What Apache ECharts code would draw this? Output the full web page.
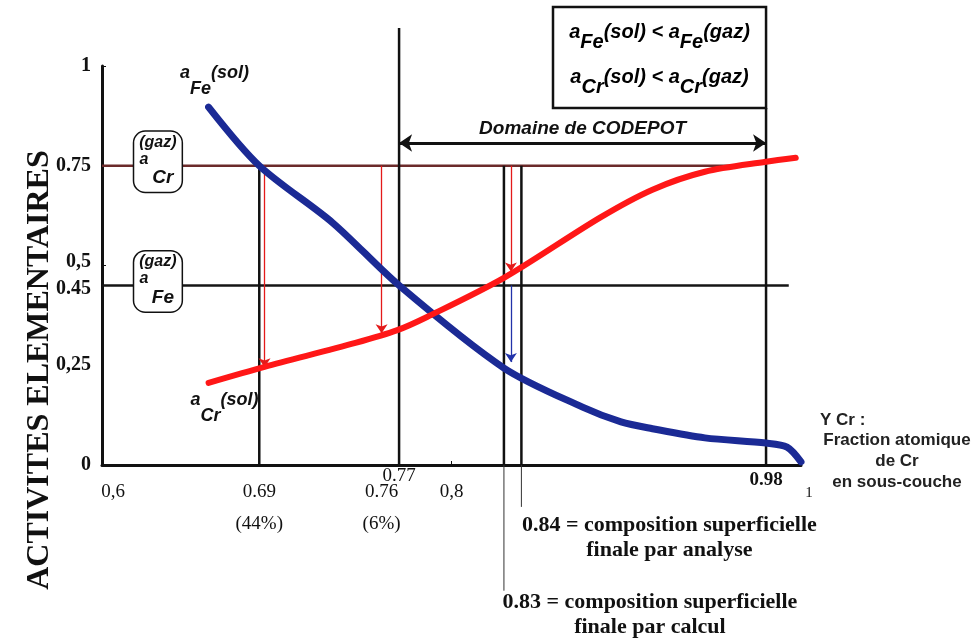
<!DOCTYPE html>
<html>
<head>
<meta charset="utf-8">
<script src="https://cdn.jsdelivr.net/npm/echarts@6/dist/echarts.min.js"></script>
<style>
html,body{margin:0;padding:0;background:#fff;}
#main{width:978px;height:641px;}
</style>
</head>
<body>
<div id="main"></div>
<script>
// courbes : x = fraction atomique de Cr, y = activite
var feSolX = [0.661, 0.69, 0.732, 0.77, 0.83, 0.875, 0.897, 0.915, 0.945, 0.98, 0.992, 1.0];
var feSolY = [0.897, 0.75, 0.607, 0.45, 0.243, 0.145, 0.108, 0.091, 0.068, 0.055, 0.045, 0.008];
var crSolX = [0.661, 0.693, 0.745, 0.769, 0.786, 0.83, 0.885, 0.915, 0.945, 0.98, 0.997];
var crSolY = [0.206, 0.246, 0.306, 0.338, 0.371, 0.469, 0.62, 0.69, 0.735, 0.76, 0.77];

// activites dans le gaz (lignes horizontales)
var gazLevel = [0.75, 0.45];
var gazLineEnd = [0.96, 0.993];
var gazName = ['Cr', 'Fe'];

// lignes verticales
var vLineX = [0.69, 0.77, 0.83, 0.84, 0.98];
var vLineTop = [0.75, 1.095, 0.75, 0.75, 0.895];
var leaderX = [0.83, 0.84];
var leaderBottom = [-0.315, -0.105];

// fleches
var redArrowX = [0.693, 0.76, 0.834];
var redArrowTo = [0.245, 0.33, 0.485];
var blueArrowX = [0.834];
var blueArrowFrom = [0.45];
var blueArrowTo = [0.258];
var codepot = [0.77, 0.98];
var codepotLevel = 0.807;

// graduations
var xTickValues = [0.6, 0.69, 0.76, 0.77, 0.8, 0.98, 1];
var xTickLabels = ['0,6', '0.69\n(44%)', '0.76\n(6%)', '0.77', '0,8', '0.98', '1'];
var yTickValues = [0, 0.25, 0.45, 0.5, 0.75, 1];
var yTickLabels = ['0', '0,25', '0.45', '0,5', '0.75', '1'];

function zip(xs, ys) {
    var out = [];
    for (var i = 0; i < xs.length; i++) out.push([xs[i], ys[i]]);
    return out;
}

var SANS = 'Liberation Sans, Arial, sans-serif';
var SERIF = 'Liberation Serif, Times New Roman, serif';

function xLabel(v) {
    var i = xTickValues.indexOf(v);
    if (i < 0) return '';
    var t = xTickLabels[i].split('\n');
    if (v === 0.77) return '{hi|' + t[0] + '}';
    if (v === 0.98) return '{b|' + t[0] + '}';
    if (v === 0.6) return '{l|' + t[0] + '}';
    if (v === 1) return '{one|' + t[0] + '}';
    if (t.length > 1) return '{n|' + t[0] + '}\n{p|' + t[1] + '}';
    return '{n|' + t[0] + '}';
}

function yLabel(v) {
    var i = yTickValues.indexOf(v);
    if (i < 0) return '';
    if (v === 0.5) return '{up|' + yTickLabels[i] + '}';
    if (v === 0.45) return '{dn|' + yTickLabels[i] + '}';
    return '{v|' + yTickLabels[i] + '}';
}

var italicB = {fontFamily: SANS, fontStyle: 'italic', fontWeight: 'bold', color: '#111'};

function subLabel(el, sup) {
    // a_el^(sup) : "a" en haut, indice en bas, parenthese en haut
    return '{a|a}{s|' + el + '}{t|' + sup + '}';
}
function subRich(size, lh) {
    return {
        a: Object.assign({fontSize: size, lineHeight: lh, verticalAlign: 'top'}, italicB),
        s: Object.assign({fontSize: size, lineHeight: lh, verticalAlign: 'bottom'}, italicB),
        t: Object.assign({fontSize: size, lineHeight: lh, verticalAlign: 'top'}, italicB)
    };
}

var series = [];

// lignes horizontales des activites gazeuses
gazLevel.forEach(function (y, i) {
    series.push({
        type: 'line', silent: true, symbol: 'none', z: 2,
        data: [[0.6, y], [gazLineEnd[i], y]],
        lineStyle: {color: i === 0 ? '#6b2a2a' : '#151515', width: 2.5},
        markPoint: {
            silent: true, symbolSize: 0,
            data: [{coord: [0.632, y]}],
            label: {
                show: true, position: 'inside', offset: [0, -4],
                formatter: '{g|(gaz)}\n{a|a}\n{e|' + gazName[i] + '}',
                backgroundColor: '#fff', borderColor: '#111', borderWidth: 1.5, borderRadius: 11,
                padding: [2, 5, 3, 5],
                rich: {
                    g: Object.assign({fontSize: 16, lineHeight: 17}, italicB),
                    a: Object.assign({fontSize: 16, lineHeight: 17, padding: [0, 28, 0, 0]}, italicB),
                    e: Object.assign({fontSize: 19, lineHeight: 21, padding: [0, 0, 0, 10]}, italicB)
                }
            }
        }
    });
});

// lignes verticales noires
vLineX.forEach(function (x, i) {
    series.push({
        type: 'line', silent: true, symbol: 'none', clip: false, z: 2,
        data: [[x, 0], [x, vLineTop[i]]],
        lineStyle: {color: '#111', width: 2.5}
    });
});
leaderX.forEach(function (x, i) {
    series.push({
        type: 'line', silent: true, symbol: 'none', clip: false, z: 2,
        data: [[x, 0], [x, leaderBottom[i]]],
        lineStyle: {color: '#333', width: 1}
    });
});

// courbes
series.push({
    name: 'aFe(sol)', type: 'line', smooth: 0.3, showSymbol: false, silent: true, z: 5,
    data: zip(feSolX, feSolY),
    lineStyle: {color: '#1b2a95', width: 7, cap: 'round'},
    markPoint: {
        silent: true, symbolSize: 0,
        data: [{coord: [feSolX[0], feSolY[0]]}],
        label: {show: true, position: 'inside', offset: [6, -26],
            formatter: subLabel('Fe', '(sol)'), rich: subRich(18, 34)}
    }
});
series.push({
    name: 'aCr(sol)', type: 'line', smooth: 0.3, showSymbol: false, silent: true, z: 5,
    data: zip(crSolX, crSolY),
    lineStyle: {color: '#ff1717', width: 6, cap: 'round'},
    markPoint: {
        silent: true, symbolSize: 0,
        data: [{coord: [crSolX[0], crSolY[0]]}],
        label: {show: true, position: 'inside', offset: [16, 25],
            formatter: subLabel('Cr', '(sol)'), rich: subRich(18, 34)}
    }
});

// fleches rouges / bleue
series.push({
    type: 'line', data: [], silent: true, z: 4,
    markLine: {
        silent: true, symbol: ['none', 'arrow'], symbolSize: 9,
        lineStyle: {color: '#e41a1a', width: 1.3, type: 'solid'},
        label: {show: false},
        data: redArrowX.map(function (x, i) { return [{coord: [x, 0.75]}, {coord: [x, redArrowTo[i]]}]; })
    }
});
series.push({
    type: 'line', data: [], silent: true, z: 4,
    markLine: {
        silent: true, symbol: ['none', 'arrow'], symbolSize: 9,
        lineStyle: {color: '#2233aa', width: 1.3, type: 'solid'},
        label: {show: false},
        data: blueArrowX.map(function (x, i) { return [{coord: [x, blueArrowFrom[i]]}, {coord: [x, blueArrowTo[i]]}]; })
    }
});
// domaine de CODEPOT
series.push({
    type: 'line', data: [], silent: true, z: 4,
    markLine: {
        silent: true, symbol: ['arrow', 'arrow'], symbolSize: 13,
        lineStyle: {color: '#111', width: 3, type: 'solid'},
        label: {show: true, position: 'insideMiddleTop', distance: 5, formatter: 'Domaine de CODEPOT',
            fontFamily: SANS, fontStyle: 'italic', fontWeight: 'bold', fontSize: 19, color: '#111'},
        data: [[{coord: [codepot[0], codepotLevel]}, {coord: [codepot[1], codepotLevel]}]]
    }
});

var chart = echarts.init(document.getElementById('main'));

var option = {
    animation: false,
    backgroundColor: '#fff',
    grid: {left: 102, right: 177, top: 66, bottom: 176, containLabel: false, outerBoundsMode: 'none'},
    xAxis: {
        type: 'value', min: 0.6, max: 1,
        axisLine: {show: true, onZero: false, lineStyle: {color: '#111', width: 3}},
        axisTick: {show: true, inside: true, length: 4, customValues: [0.8], lineStyle: {color: '#111'}},
        splitLine: {show: false},
        axisLabel: {
            customValues: xTickValues, margin: 4, showMinLabel: true, showMaxLabel: true,
            formatter: xLabel,
            rich: {
                n: {fontFamily: SERIF, fontSize: 19, lineHeight: 46, color: '#111'},
                p: {fontFamily: SERIF, fontSize: 19, lineHeight: 18, color: '#111'},
                hi: {fontFamily: SERIF, fontSize: 19, lineHeight: 14, color: '#111'},
                b: {fontFamily: SERIF, fontSize: 19, fontWeight: 'bold', lineHeight: 22, color: '#111'},
                l: {fontFamily: SERIF, fontSize: 19, lineHeight: 46, color: '#111', padding: [0, 0, 0, 22]},
                one: {fontFamily: SERIF, fontSize: 15, lineHeight: 48, color: '#111', padding: [0, 0, 0, 16]}
            }
        }
    },
    yAxis: {
        type: 'value', min: 0, max: 1,
        axisLine: {show: true, onZero: false, lineStyle: {color: '#111', width: 3}},
        axisTick: {show: true, inside: true, length: 4, customValues: [0.5, 1], lineStyle: {color: '#111'}},
        splitLine: {show: false},
        axisLabel: {
            customValues: yTickValues, margin: 11,
            formatter: yLabel,
            rich: {
                v: {fontFamily: SERIF, fontSize: 20, fontWeight: 'bold', color: '#111'},
                up: {fontFamily: SERIF, fontSize: 20, fontWeight: 'bold', color: '#111', padding: [0, 0, 7, 0]},
                dn: {fontFamily: SERIF, fontSize: 20, fontWeight: 'bold', color: '#111', padding: [7, 0, 0, 0]}
            }
        }
    },
    series: series
};
chart.setOption(option);

// annotations hors du repere, placees avec l'echelle du graphique
var p98 = chart.convertToPixel({gridIndex: 0}, [0.98, 0.895]);
var p83 = chart.convertToPixel({gridIndex: 0}, [0.83, 0]);
var p84 = chart.convertToPixel({gridIndex: 0}, [0.84, 0]);
var boxRich = subRich(20, 30);
var boxLeft = 553;

chart.setOption({
    graphic: [
        {
            type: 'text', x: 40, y: 370, rotation: Math.PI / 2, silent: true,
            style: {text: 'ACTIVITES ELEMENTAIRES', fontFamily: SERIF, fontSize: 32, fontWeight: 'bold',
                fill: '#111', align: 'center', verticalAlign: 'middle'}
        },
        {
            type: 'rect', silent: true, z: 10,
            shape: {x: boxLeft, y: 7, width: p98[0] - boxLeft, height: p98[1] - 7},
            style: {fill: '#fff', stroke: '#111', lineWidth: 2.5}
        },
        {
            type: 'text', silent: true, z: 11, x: (boxLeft + p98[0]) / 2, y: 37,
            style: {text: '{a|a}{s|Fe}{t|(sol) < }{a|a}{s|Fe}{t|(gaz)}', rich: boxRich,
                align: 'center', verticalAlign: 'middle'}
        },
        {
            type: 'text', silent: true, z: 11, x: (boxLeft + p98[0]) / 2, y: 82,
            style: {text: '{a|a}{s|Cr}{t|(sol) < }{a|a}{s|Cr}{t|(gaz)}', rich: boxRich,
                align: 'center', verticalAlign: 'middle'}
        },
        {
            type: 'text', silent: true, x: 820, y: 420,
            style: {text: 'Y Cr :', fontFamily: SANS, fontSize: 17, fontWeight: 'bold', fill: '#222',
                align: 'left', verticalAlign: 'middle'}
        },
        {
            type: 'text', silent: true, x: 897, y: 461,
            style: {text: 'Fraction atomique\nde Cr\nen sous-couche', fontFamily: SANS, fontSize: 17,
                fontWeight: 'bold', lineHeight: 21, fill: '#222', align: 'center', verticalAlign: 'middle'}
        },
        {
            type: 'text', silent: true, x: p84[0] + 148, y: 538,
            style: {text: '0.84 = composition superficielle\nfinale par analyse', fontFamily: SERIF, fontSize: 22,
                fontWeight: 'bold', lineHeight: 25, fill: '#111', align: 'center', verticalAlign: 'middle'}
        },
        {
            type: 'text', silent: true, x: p83[0] + 146, y: 615,
            style: {text: '0.83 = composition superficielle\nfinale par calcul', fontFamily: SERIF, fontSize: 22,
                fontWeight: 'bold', lineHeight: 25, fill: '#111', align: 'center', verticalAlign: 'middle'}
        }
    ]
});
</script>
</body>
</html>
